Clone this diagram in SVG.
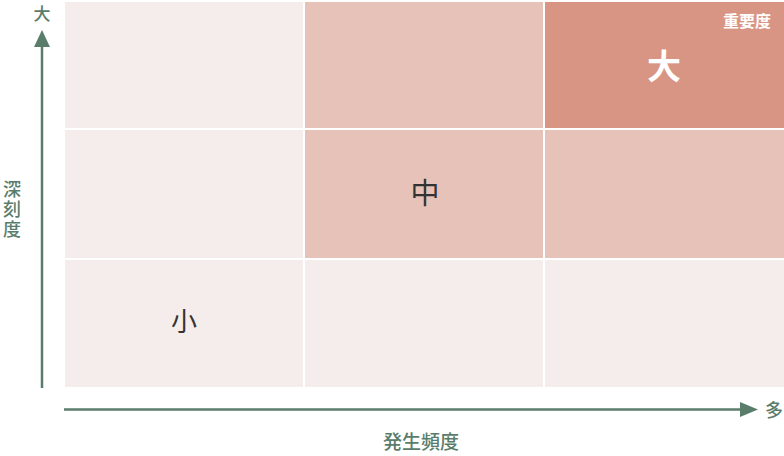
<svg xmlns="http://www.w3.org/2000/svg" width="784" height="456" viewBox="0 0 784 456">
<style>
.l{fill:#f5edeb}.m{fill:#e6c2b8}.d{fill:#d99584}
.ax{stroke:#5a7d6b;stroke-width:2.5;fill:none}
.ah{fill:#5a7d6b}
.lab{font-family:"Noto Sans CJK JP",sans-serif;fill:#5a7d6b;font-weight:500}
.cell{font-family:"Noto Sans CJK JP",sans-serif;fill:#333;text-anchor:middle}
</style>
<rect width="784" height="456" fill="#fff"/>
<g id="grid">
<rect id="c11" class="l" x="65" y="2" width="238" height="126"/>
<rect id="c12" class="m" x="305" y="2" width="238" height="126"/>
<rect id="c13" class="d" x="545" y="2" width="239" height="126"/>
<rect id="c21" class="l" x="65" y="130" width="238" height="128"/>
<rect id="c22" class="m" x="305" y="130" width="238" height="128"/>
<rect id="c23" class="m" x="545" y="130" width="239" height="128"/>
<rect id="c31" class="l" x="65" y="260" width="238" height="127"/>
<rect id="c32" class="l" x="305" y="260" width="238" height="127"/>
<rect id="c33" class="l" x="545" y="260" width="239" height="127"/>
</g>
<g id="labels">
<text class="cell" x="664" y="79" font-size="34" font-weight="700" style="fill:#fff">大</text>
<text x="771" y="27" font-size="16" font-weight="700" text-anchor="end" font-family="Noto Sans CJK JP,sans-serif" fill="#fff">重要度</text>
<text class="cell" x="425" y="204" font-size="29">中</text>
<text class="cell" x="184" y="331" font-size="26">小</text>
</g>
<g id="connectors">
<line class="ax" x1="42" y1="388" x2="42" y2="46"/>
<polygon class="ah" points="42,30 34,47 50,47"/>
<line class="ax" x1="64" y1="409.5" x2="742" y2="409.5"/>
<polygon class="ah" points="758,409.5 740,402 740,417"/>
</g>
<g id="axis-labels">
<text class="lab" x="42" y="20" font-size="17" text-anchor="middle">大</text>
<text class="lab" x="12" y="180" font-size="18" writing-mode="vertical-rl" letter-spacing="2">深刻度</text>
<text class="lab" x="774" y="417" font-size="18" text-anchor="middle">多</text>
<text class="lab" x="421" y="449" font-size="19" text-anchor="middle">発生頻度</text>
</g>
</svg>
